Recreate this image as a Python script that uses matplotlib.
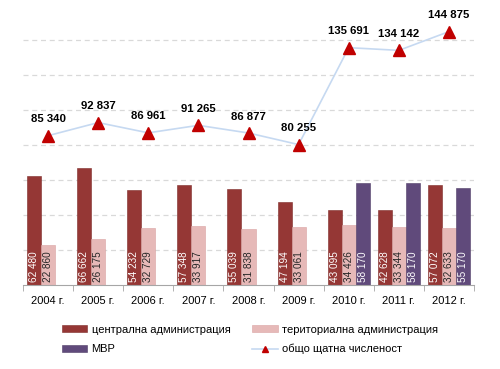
import matplotlib.pyplot as plt
import numpy as np

plt.rcParams['font.family'] = ['Liberation Sans', 'DejaVu Sans']

years = ["2004 г.", "2005 г.", "2006 г.", "2007 г.", "2008 г.",
         "2009 г.", "2010 г.", "2011 г.", "2012 г."]
central = [62480, 66662, 54232, 57348, 55039, 47194, 43095, 42628, 57072]
territorial = [22860, 26175, 32729, 33917, 31838, 33061, 34426, 33344, 32633]
mvr = [None, None, None, None, None, None, 58170, 58170, 55170]
total = [85340, 92837, 86961, 91265, 86877, 80255, 135691, 134142, 144875]

c_central = "#953735"
c_terr = "#E6B9B8"
c_mvr = "#604A7B"


def fmt(v):
    return "{:,}".format(v).replace(",", " ")


fig = plt.figure(figsize=(5, 3.69), dpi=100)
ax = fig.add_axes([0.046, 0.228, 0.902, 0.758])

x = np.arange(len(years))
w = 0.28

b1 = ax.bar(x - w, central, w, color=c_central, edgecolor="#7f2b29", linewidth=0.4,
            label="централна администрация")
b2 = ax.bar(x, territorial, w, color=c_terr, edgecolor="#d9a3a2", linewidth=0.4,
            label="териториална администрация")
mx = [xi + w for xi, v in zip(x, mvr) if v is not None]
mv = [v for v in mvr if v is not None]
b3 = ax.bar(mx, mv, w, color=c_mvr, edgecolor="#4f3c66", linewidth=0.4, label="МВР")
ln, = ax.plot(x, total, color="#C6D9F1", linewidth=1.2, marker="^", markersize=9,
              markerfacecolor="#C00000", markeredgecolor="#C00000",
              label="общо щатна численост")

# labels inside the bars
for xi, v in zip(x, central):
    ax.text(xi - w, 1500, fmt(v), rotation=90, ha="center", va="bottom",
            color="white", fontsize=7.2)
for xi, v in zip(x, territorial):
    ax.text(xi, 1500, fmt(v), rotation=90, ha="center", va="bottom",
            color="#262626", fontsize=7.2)
for xi, v in zip(mx, mv):
    ax.text(xi, 1500, fmt(v), rotation=90, ha="center", va="bottom",
            color="white", fontsize=7.2)

# labels above the line
for xi, v in zip(x, total):
    ax.text(xi, v + 6500, fmt(v), ha="center", va="bottom",
            fontsize=8.2, fontweight="bold", color="black")

ax.set_xlim(-0.5, len(years) - 0.5)
ax.set_ylim(0, 160000)
ax.set_yticks([])
for g in range(20000, 160000, 20000):
    ax.axhline(g, color="#d9d9d9", linestyle=(0, (4, 3)), linewidth=0.9, zorder=0)

ax.set_xticks(x)
ax.set_xticklabels(years, fontsize=8)
ax.set_xticks(np.arange(-0.5, len(years)), minor=True)
ax.tick_params(axis="x", which="major", length=0, pad=8)
ax.tick_params(axis="x", which="minor", length=4, color="#a6a6a6")
for s in ["top", "right", "left"]:
    ax.spines[s].set_visible(False)
ax.spines["bottom"].set_color("#a6a6a6")

fig.legend([b1, b3, b2, ln],
           [b1.get_label(), b3.get_label(), b2.get_label(), ln.get_label()],
           loc="center", bbox_to_anchor=(0.5, 0.08), ncol=2, frameon=False,
           fontsize=8, handlelength=2.3, handleheight=0.6, markerscale=0.5,
           columnspacing=2.0, labelspacing=0.85, handletextpad=0.4)

fig.savefig("out.png", dpi=100)
